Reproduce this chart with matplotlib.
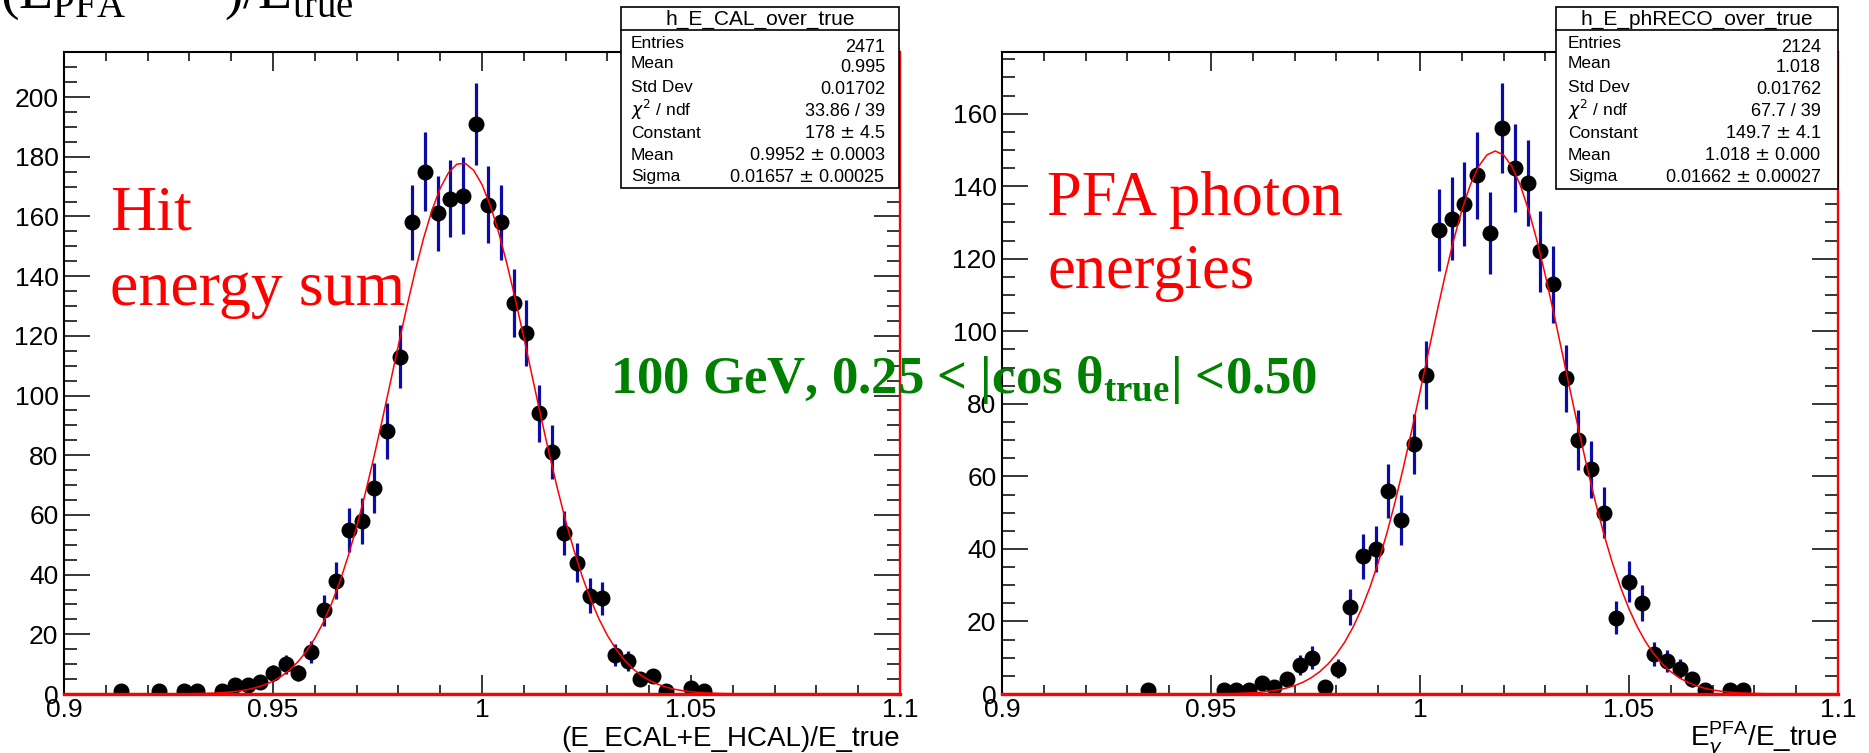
import numpy as np
import matplotlib
matplotlib.use("Agg")
import matplotlib.pyplot as plt
from matplotlib.patches import Rectangle
from matplotlib.lines import Line2D
from matplotlib.ticker import MultipleLocator, FixedLocator, FixedFormatter

W, H = 1869, 753
SANS = "Liberation Sans"
SERIF = "Liberation Serif"

# histogram binning: 66 bins between 0.9 and 1.1
x_lo, x_hi, n_bins = 0.9, 1.1, 66

# hit energy sum (left)
cal_bins = [4, 7, 9, 10, 12, 13, 14, 15, 16, 17, 18, 19, 20, 21, 22, 23, 24, 25,
            26, 27, 28, 29, 30, 31, 32, 33, 34, 35, 36, 37, 38, 39, 40, 41, 42,
            43, 44, 45, 46, 47, 49, 50]
cal_counts = [1, 1, 1, 1, 1, 3, 3, 4, 7, 10, 7, 14, 28, 38, 55, 58, 69, 88,
              113, 158, 175, 161, 166, 167, 191, 164, 158, 131, 121, 94, 81, 54, 44, 33, 32,
              13, 11, 5, 6, 1, 2, 1]
cal_fit = (178.0, 0.9952, 0.01657)  # constant, mean, sigma

# PFA photon energies (right)
pfa_bins = [11, 17, 18, 19, 20, 21, 22, 23, 24, 25, 26, 27, 28, 29, 30, 31, 32,
            33, 34, 35, 36, 37, 38, 39, 40, 41, 42, 43, 44, 45, 46, 47, 48, 49,
            50, 51, 52, 53, 54, 55, 57, 58]
pfa_counts = [1, 1, 1, 1, 3, 2, 4, 8, 10, 2, 7, 24, 38, 40, 56, 48, 69,
              88, 128, 131, 135, 143, 127, 156, 145, 141, 122, 113, 87, 70, 62, 50, 21, 31,
              25, 11, 9, 7, 4, 1, 1, 1]
pfa_fit = (149.7, 1.018, 0.01662)

x_ticks = [0.9, 0.95, 1.0, 1.05, 1.1]
x_ticklabels = ["0.9", "0.95", "1", "1.05", "1.1"]

cal_stats = [("Entries", "2471"), ("Mean", "0.995"), ("Std Dev", "0.01702"),
             (r"$\chi^{2}$ / ndf", "33.86 / 39"), ("Constant", "178 $\\pm$ 4.5"),
             ("Mean", "0.9952 $\\pm$ 0.0003"), ("Sigma", "0.01657 $\\pm$ 0.00025")]
pfa_stats = [("Entries", "2124"), ("Mean", "1.018"), ("Std Dev", "0.01762"),
             (r"$\chi^{2}$ / ndf", "67.7 / 39"), ("Constant", "149.7 $\\pm$ 4.1"),
             ("Mean", "1.018 $\\pm$ 0.000"), ("Sigma", "0.01662 $\\pm$ 0.00027")]

edges = np.linspace(x_lo, x_hi, n_bins + 1)
centers = 0.5 * (edges[:-1] + edges[1:])


def fx(px):
    return px / W


def fy(py):
    return 1 - py / H


def draw_hist(ax, bins, counts, fit, ytop, ymajor_max):
    x = centers[bins]
    y = np.array(counts, dtype=float)
    ax.errorbar(x, y, yerr=np.sqrt(y), fmt="none", ecolor="#0b0ba8",
                elinewidth=2.3, capsize=0, zorder=3)
    ax.plot(x, y, "o", color="black", ms=10.5, zorder=4)
    a, mu, sig = fit
    xs = np.linspace(x_lo, x_hi, 101)
    ax.plot(xs, a * np.exp(-0.5 * ((xs - mu) / sig) ** 2), color="red", lw=1.1, zorder=5)
    ax.plot([x_lo, x_hi], [0, 0], color="red", lw=2.4, clip_on=False, zorder=6)
    ax.plot([x_hi, x_hi], [0, ytop], color="red", lw=1.6, clip_on=False, zorder=6)

    ax.set_xlim(x_lo, x_hi)
    ax.set_ylim(0, ytop)
    ax.xaxis.set_major_locator(FixedLocator(x_ticks))
    ax.xaxis.set_major_formatter(FixedFormatter(x_ticklabels))
    ax.xaxis.set_minor_locator(MultipleLocator(0.01))
    ax.yaxis.set_major_locator(FixedLocator(list(range(0, ymajor_max + 1, 20))))
    ax.yaxis.set_minor_locator(MultipleLocator(5))
    ax.tick_params(axis="x", which="major", direction="in", length=13.5, width=1.1,
                   top=True, bottom=True, labelsize=19, pad=3)
    ax.tick_params(axis="x", which="minor", direction="in", length=6.8, width=1.1,
                   top=True, bottom=True)
    ax.tick_params(axis="y", which="major", direction="in", length=18.5, width=1.1,
                   left=True, right=True, labelsize=19, pad=4)
    ax.tick_params(axis="y", which="minor", direction="in", length=9.3, width=1.1,
                   left=True, right=True)
    for lab in ax.get_xticklabels() + ax.get_yticklabels():
        lab.set_family(SANS)
    for s in ax.spines.values():
        s.set_linewidth(1.5)


def stat_box(x0, x1, y0, ydiv, y1, title, rows, lab_x, val_x):
    fig.add_artist(Rectangle((fx(x0), fy(y1)), fx(x1) - fx(x0), fy(y0) - fy(y1),
                             transform=fig.transFigure, facecolor="white",
                             edgecolor="black", lw=1.2, zorder=10))
    fig.add_artist(Line2D([fx(x0), fx(x1)], [fy(ydiv), fy(ydiv)],
                          transform=fig.transFigure, color="black", lw=1.2, zorder=11))
    fig.text(fx((x0 + x1) / 2), fy(19), title, ha="center", va="center",
             fontsize=15, family=SANS, zorder=12)
    lab_y = [43, 64, 88, 110, 133, 155, 176]
    val_y = [47, 67, 89, 112, 134, 156, 178]
    for (lab, val), ly, vy in zip(rows, lab_y, val_y):
        fig.text(fx(lab_x), fy(ly), lab, ha="left", va="center",
                 fontsize=12.5, family=SANS, zorder=12)
        fig.text(fx(val_x), fy(vy), val, ha="right", va="center",
                 fontsize=13, family=SANS, zorder=12)


fig = plt.figure(figsize=(W / 100, H / 100), dpi=100)
fig.patch.set_facecolor("white")
plt.rcParams["mathtext.fontset"] = "dejavusans"

ax1 = fig.add_axes([fx(64), fy(694), (900 - 64) / W, (694 - 52) / H])
ax2 = fig.add_axes([fx(1002), fy(694), (1838 - 1002) / W, (694 - 52) / H])

draw_hist(ax1, cal_bins, cal_counts, cal_fit, 215.1, 200)
draw_hist(ax2, pfa_bins, pfa_counts, pfa_fit, 177.0, 160)

stat_box(621, 899, 7, 30, 188, "h_E_CAL_over_true", cal_stats, 631, 885)
stat_box(1556, 1838, 7, 30, 189, "h_E_phRECO_over_true", pfa_stats, 1568, 1821)

# axis titles
fig.text(fx(900), fy(746), "(E_ECAL+E_HCAL)/E_true", ha="right", va="baseline",
         fontsize=20, family=SANS)
fig.text(fx(1838), fy(746), r"$\mathregular{E}_{\gamma}^{\mathregular{PFA}}$/E_true",
         ha="right", va="baseline", fontsize=20, family=SANS)

# heading cut at the top edge
fig.text(fx(0), fy(8), r"(E$_{\mathregular{PFA}}$", ha="left", va="baseline",
         fontsize=40, family=SERIF)
fig.text(fx(224), fy(8), r")/E$_{\mathregular{true}}$", ha="left", va="baseline",
         fontsize=40, family=SERIF)

# panel annotations
fig.text(fx(110), fy(230), "Hit", ha="left", va="baseline", fontsize=46,
         family=SERIF, color="red", zorder=13)
fig.text(fx(110), fy(305), "energy sum", ha="left", va="baseline", fontsize=46,
         family=SERIF, color="red", zorder=13)
fig.text(fx(1047), fy(215), "PFA photon", ha="left", va="baseline", fontsize=45,
         family=SERIF, color="red", zorder=13)
fig.text(fx(1047), fy(288), "energies", ha="left", va="baseline", fontsize=45,
         family=SERIF, color="red", zorder=13)
fig.text(fx(610), fy(393), "100 GeV, 0.25 < |cos \u03b8$_{\\mathregular{true}}$| <0.50",
         ha="left", va="baseline", fontsize=38, family=SERIF, weight="bold",
         color="#008000", zorder=13)

fig.savefig("out.png", dpi=100)
